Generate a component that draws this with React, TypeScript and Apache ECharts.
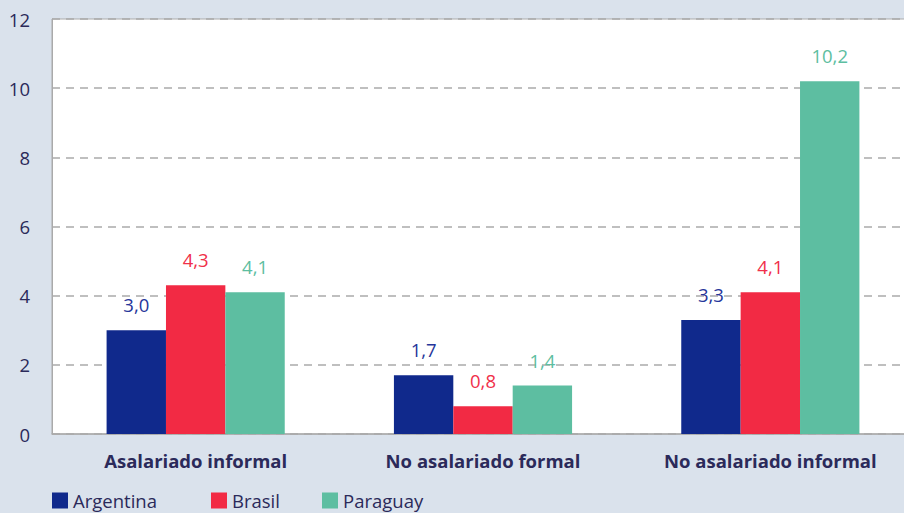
import React, { useEffect, useRef } from "react";
import * as echarts from "echarts";

const categories = ["Asalariado informal", "No asalariado formal", "No asalariado informal"];
const seriesNames = ["Argentina", "Brasil", "Paraguay"];
const argentina = [3.0, 1.7, 3.3];
const brasil = [4.3, 0.8, 4.1];
const paraguay = [4.1, 1.4, 10.2];
const yTicks = [0, 2, 4, 6, 8, 10, 12];

const colors = ["#10298c", "#f22a44", "#5dbea1"];
const labelColors = ["#26369a", "#f0304a", "#5dbea1"];

export default function App() {
  const ref = useRef<HTMLDivElement>(null);
  useEffect(() => {
    if (!ref.current) return;
    const chart = echarts.init(ref.current, null, { renderer: "svg" });
    const font = "'Open Sans', 'Noto Sans', sans-serif";
    const values = [argentina, brasil, paraguay];
    const legendLefts = [52, 211, 322];
    chart.setOption({
      animation: false,
      backgroundColor: "#dae2ec",
      textStyle: { fontFamily: font },
      grid: {
        left: 52,
        top: 19,
        width: 862,
        bottom: 79,
        show: true,
        backgroundColor: "#ffffff",
        borderColor: "#aaaaaa",
        borderWidth: 1,
        containLabel: false,
        outerBoundsMode: "none",
      },
      legend: seriesNames.map((n, i) => ({
        data: [n],
        left: legendLefts[i],
        top: 491,
        icon: "rect",
        itemWidth: 16,
        itemHeight: 16,
        itemGap: 6,
        padding: 0,
        textStyle: { fontSize: 18.5, color: "#2b2a5a", fontFamily: font },
      })),
      xAxis: {
        type: "category",
        data: categories,
        axisLine: { lineStyle: { color: "#aaaaaa", width: 1.5 } },
        axisTick: { show: false },
        axisLabel: {
          fontSize: 18.5,
          fontWeight: "bold",
          color: "#2b2a5a",
          margin: 17,
          fontFamily: font,
        },
      },
      yAxis: {
        type: "value",
        min: 0,
        max: 12,
        interval: 2,
        axisLine: { show: true, lineStyle: { color: "#aaaaaa" } },
        axisTick: { show: false },
        axisLabel: {
          fontSize: 18.5,
          color: "#2b2a5a",
          margin: 22,
          fontFamily: font,
          formatter: (v: number) => (yTicks.includes(v) ? String(v) : ""),
        },
        splitLine: { lineStyle: { color: "#aaaaaa", type: [8, 6], width: 1.5 } },
      },
      series: seriesNames.map((n, i) => ({
        name: n,
        type: "bar",
        data: values[i],
        barGap: "0%",
        barCategoryGap: "38%",
        itemStyle: { color: colors[i] },
        label: {
          show: true,
          position: "top",
          distance: 16,
          fontSize: 18.5,
          color: labelColors[i],
          fontFamily: font,
          formatter: (p: any) => p.value.toFixed(1).replace(".", ","),
        },
      })),
    });
    return () => chart.dispose();
  }, []);
  return (
    <div
      ref={ref}
      style={{ position: "fixed", left: 0, top: 0, width: 904, height: 513 }}
    />
  );
}
